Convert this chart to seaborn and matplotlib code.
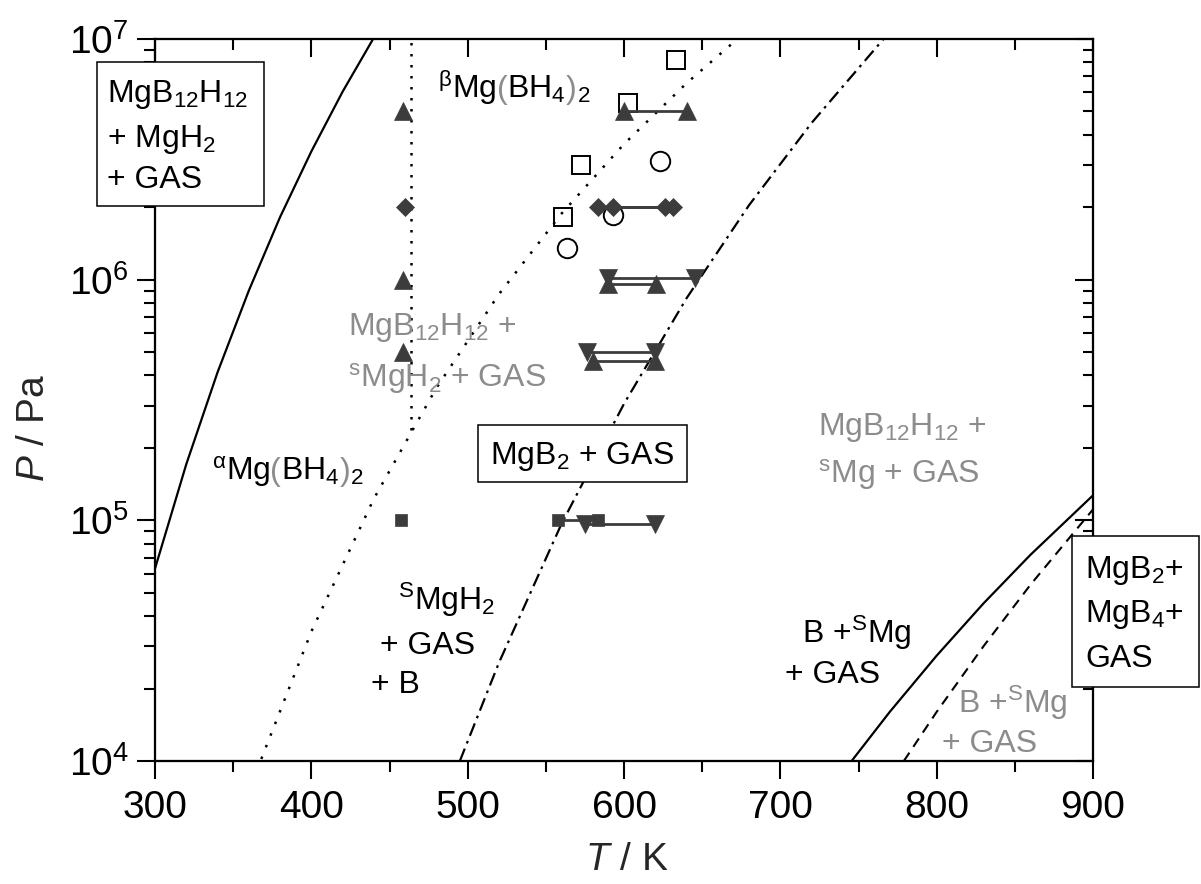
import matplotlib
matplotlib.use("Agg")
import matplotlib.pyplot as plt
import seaborn as sns
from matplotlib.patches import Rectangle
from matplotlib.transforms import offset_copy
from matplotlib.ticker import LogLocator, MultipleLocator, NullFormatter

# ---------------- boundary curves (T / K, P / Pa) ----------------
solid_left_T = [300, 320, 340, 360, 380, 400, 420, 439.5]
solid_left_P = [6.3e4, 1.71e5, 4.12e5, 9.0e5, 1.82e6, 3.41e6, 6.04e6, 1.0e7]

dotted_T = [368, 400, 440, 480, 520, 560, 600, 640, 672]
dotted_P = [1.02e4, 3.45e4, 1.23e5, 3.55e5, 8.7e5, 1.88e6, 3.66e6, 6.55e6, 9.93e6]

vert_T = [464, 464]
vert_P = [2.38e5, 1.0e7]

dashdot_T = [495, 520, 560, 600, 640, 680, 720, 766]
dashdot_P = [1.0e4, 2.56e4, 9.66e4, 3.05e5, 8.37e5, 2.04e6, 4.48e6, 1.0e7]

solid_right_T = [745.6, 770, 800, 830, 860, 900]
solid_right_P = [1.0e4, 1.6e4, 2.74e4, 4.52e4, 7.19e4, 1.27e5]

dashed_T = [779, 800, 830, 860, 900]
dashed_P = [1.0e4, 1.6e4, 3.0e4, 5.4e4, 1.11e5]

# ---------------- experimental points ----------------
open_sq_T = [561, 572.5, 602.8, 633]
open_sq_P = [1.83e6, 3.0e6, 5.4e6, 8.2e6]
open_ci_T = [563.4, 593, 623]
open_ci_P = [1.35e6, 1.86e6, 3.1e6]

col_up_T = [458.4, 458.4, 458.4]
col_up_P = [5.0e6, 1.0e6, 5.0e5]
col_dia_T = [459.9]
col_dia_P = [2.0e6]
col_sq_T = [457.2]
col_sq_P = [1.0e5]

up_a_T, up_a_P = [600.2, 640.1], [5.0e6, 5.0e6]
dia_a_T, dia_a_P = [583.2, 626.2], [2.0e6, 2.0e6]
dia_b_T, dia_b_P = [593.1, 631.6], [2.0e6, 2.0e6]
down_a_T, down_a_P = [590.0, 645.4], [1.02e6, 1.02e6]
up_b_T, up_b_P = [590.0, 620.3], [0.96e6, 0.96e6]
down_b_T, down_b_P = [576.1, 619.8], [5.0e5, 5.0e5]
up_c_T, up_c_P = [580.4, 619.8], [4.6e5, 4.6e5]
sq_a_T, sq_a_P = [558.0, 583.6], [1.0e5, 1.0e5]
down_c_T, down_c_P = [575.0, 619.8], [0.97e5, 0.97e5]

x_ticks = [300, 400, 500, 600, 700, 800, 900]

# ---------------- style ----------------
sns.set_theme(style="ticks")
plt.rcParams.update({
    "font.family": ["Liberation Sans", "DejaVu Sans"],
    "mathtext.fontset": "custom",
    "mathtext.rm": "Liberation Sans",
    "mathtext.it": "Liberation Sans:italic",
    "mathtext.bf": "Liberation Sans:bold",
    "mathtext.default": "regular",
    "axes.linewidth": 1.5,
    "axes.edgecolor": "black",
    "xtick.color": "black",
    "ytick.color": "black",
})

MARK = "#3c3c3c"
GRAY = "#8c8c8c"
FS = 23

fig = plt.figure(figsize=(12.01, 8.84), dpi=100)
ax = fig.add_axes([155 / 1201, 123 / 884, 938 / 1201, 722 / 884])
ax.set_yscale("log")
ax.set_xlim(300, 900)
ax.set_ylim(1e4, 1e7)


def curve(T, P, ls, lw=1.6):
    sns.lineplot(x=T, y=P, ax=ax, color="black", linestyle=ls, linewidth=lw,
                 estimator=None, sort=False, zorder=2)


curve(solid_left_T, solid_left_P, "-", 1.6)
curve(dotted_T, dotted_P, (0, (1, 4.0)), 1.8)
curve(vert_T, vert_P, (0, (1, 3.4)), 1.8)
curve(dashdot_T, dashdot_P, (0, (6, 2.5, 1.2, 2.5)), 1.6)
curve(solid_right_T, solid_right_P, "-", 1.6)
curve(dashed_T, dashed_P, (0, (4.8, 3.4)), 1.5)


def open_pts(T, P, marker, ms):
    sns.lineplot(x=T, y=P, ax=ax, color="black", marker=marker, markersize=ms,
                 markerfacecolor="none", markeredgecolor="black", markeredgewidth=1.4,
                 linestyle="none", estimator=None, sort=False, zorder=3)


def filled(T, P, marker, ms, line=True):
    sns.lineplot(x=T, y=P, ax=ax, color=MARK, marker=marker, markersize=ms,
                 markerfacecolor=MARK, markeredgecolor=MARK, markeredgewidth=0.5,
                 linestyle="-" if line else "none", linewidth=2.0,
                 estimator=None, sort=False, zorder=4)


open_pts(open_sq_T, open_sq_P, "s", 13)
open_pts(open_ci_T, open_ci_P, "o", 14)

filled(col_up_T, col_up_P, "^", 13, line=False)
filled(col_dia_T, col_dia_P, "D", 9, line=False)
filled(col_sq_T, col_sq_P, "s", 9, line=False)
filled(up_a_T, up_a_P, "^", 13)
filled(dia_a_T, dia_a_P, "D", 9)
filled(dia_b_T, dia_b_P, "D", 9)
filled(down_a_T, down_a_P, "v", 13)
filled(up_b_T, up_b_P, "^", 13)
filled(down_b_T, down_b_P, "v", 13)
filled(up_c_T, up_c_P, "^", 13)
filled(sq_a_T, sq_a_P, "s", 9)
filled(down_c_T, down_c_P, "v", 13)

# ---------------- axes, ticks ----------------
ax.set_xticks(x_ticks)
ax.xaxis.set_minor_locator(MultipleLocator(50))
ax.yaxis.set_major_locator(LogLocator(base=10))
ax.yaxis.set_minor_locator(LogLocator(base=10, subs=range(2, 10)))
ax.yaxis.set_minor_formatter(NullFormatter())
ax.tick_params(which="major", direction="out", length=13, width=1.5, labelsize=28, pad=6)
ax.tick_params(which="minor", direction="out", length=8, width=1.5)
ax.tick_params(axis="x", which="major", pad=8)

axr = ax.twinx()
axr.set_yscale("log")
axr.set_ylim(1e4, 1e7)
axr.yaxis.set_major_locator(LogLocator(base=10))
axr.yaxis.set_minor_locator(LogLocator(base=10, subs=range(2, 10)))
axr.tick_params(which="major", direction="in", length=13, width=1.5, labelright=False)
axr.tick_params(which="minor", direction="in", length=7, width=1.5, labelright=False)
axt = ax.twiny()
axt.set_xlim(300, 900)
axt.xaxis.set_major_locator(MultipleLocator(100))
axt.xaxis.set_minor_locator(MultipleLocator(50))
axt.tick_params(which="major", direction="in", length=13, width=1.5, labeltop=False)
axt.tick_params(which="minor", direction="in", length=8, width=1.5, labeltop=False)
for a in (axr, axt):
    a.grid(False)
    a.patch.set_visible(False)
    a.set_zorder(1)
ax.grid(False)
ax.set_zorder(3)
ax.patch.set_visible(False)

ax.set_xlabel(r"$\mathit{T}$ / K", fontsize=28)
ax.set_ylabel(r"$\mathit{P}$ / Pa", fontsize=28)
ax.xaxis.set_label_coords(0.503, -0.137)
ax.xaxis.label.set_va("center")
ax.yaxis.set_label_coords(-0.129, 0.461)
ax.yaxis.label.set_va("center")

# ---------------- labels ----------------
renderer = fig.canvas.get_renderer()


def txt(x, y, s, color="black", **kw):
    return ax.text(x, y, s, fontsize=FS, color=color, va="baseline", ha="left", zorder=6, **kw)


def multi(x, y, pieces):
    dx = 0.0
    for s, c in pieces:
        tr = offset_copy(ax.transData, fig=fig, x=dx, y=0, units="dots")
        t = ax.text(x, y, s, fontsize=FS, color=c, va="baseline", ha="left",
                    zorder=6, transform=tr)
        dx += t.get_window_extent(renderer).width


multi(336.3, 1.47e5, [(r"$^{\alpha}$Mg", "black"), ("(", GRAY), (r"BH$_4$", "black"),
                      (")", GRAY), (r"$_2$", "black")])
multi(481.2, 5.68e6, [(r"$^{\beta}$Mg", "black"), ("(", GRAY), (r"BH$_4$", "black"),
                      (")", GRAY), (r"$_2$", "black")])

txt(423.6, 5.89e5, r"MgB$_{12}$H$_{12}$ +", color=GRAY)
txt(423.6, 3.59e5, r"$^{s}$MgH$_2$ + GAS", color=GRAY)

txt(455.6, 4.25e4, r"$^{S}$MgH$_2$")
txt(443.9, 2.79e4, "+ GAS")
txt(438.2, 1.92e4, "+ B")

txt(713.7, 3.08e4, r"B +$^{S}$Mg")
txt(703.0, 2.10e4, "+ GAS")

txt(813.9, 1.58e4, r"B +$^{S}$Mg", color=GRAY)
txt(803.2, 1.09e4, "+ GAS", color=GRAY)

txt(724.3, 2.26e5, r"MgB$_{12}$H$_{12}$ +", color=GRAY)
txt(724.3, 1.43e5, r"$^{s}$Mg + GAS", color=GRAY)


# boxed labels (axes fraction coordinates)
def box(x0, y0, x1, y1):
    ax.add_patch(Rectangle((x0, y0), x1 - x0, y1 - y0, transform=ax.transAxes,
                           facecolor="white", edgecolor="black", linewidth=1.1,
                           clip_on=False, zorder=5))


def atxt(x, y, s):
    ax.text(x, y, s, fontsize=FS, color="black", va="baseline", ha="left",
            transform=ax.transAxes, clip_on=False, zorder=6)


box(0.3447, 0.3868, 0.5668, 0.4654)
atxt(0.3571, 0.4114, r"MgB$_2$ + GAS")

box(-0.0622, 0.7687, 0.1162, 0.9677)
atxt(-0.0512, 0.9132, r"MgB$_{12}$H$_{12}$")
atxt(-0.0512, 0.8509, r"+ MgH$_2$")
atxt(-0.0512, 0.7932, "+ GAS")

box(0.9773, 0.1021, 1.1130, 0.3116)
atxt(0.9915, 0.2535, r"MgB$_2$+")
atxt(0.9915, 0.1929, r"MgB$_4$+")
atxt(0.9915, 0.1306, "GAS")

fig.savefig("out.png", dpi=100, facecolor="white")
